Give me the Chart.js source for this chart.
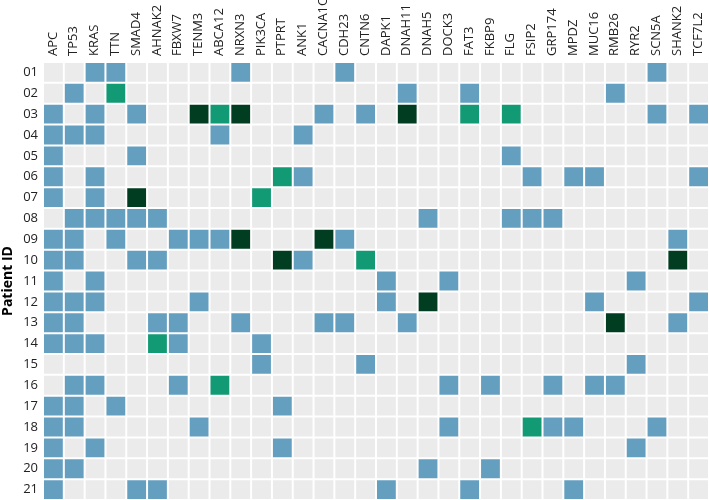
<!DOCTYPE html>
<html>
<head>
<meta charset="utf-8">
<script src="https://cdn.jsdelivr.net/npm/chart.js@4/dist/chart.umd.min.js"></script>
<style>
html,body{margin:0;padding:0;background:#fff;}
#wrap{width:709px;height:500px;position:relative;}
</style>
</head>
<body>
<div id="wrap"><canvas id="c"></canvas></div>
<script>
const genes = ["APC","TP53","KRAS","TTN","SMAD4","AHNAK2","FBXW7","TENM3","ABCA12","NRXN3","PIK3CA","PTPRT","ANK1","CACNA1C","CDH23","CNTN6","DAPK1","DNAH11","DNAH5","DOCK3","FAT3","FKBP9","FLG","FSIP2","GRP174","MPDZ","MUC16","RMB26","RYR2","SCN5A","SHANK2","TCF7L2"];
const patients = ["01","02","03","04","05","06","07","08","09","10","11","12","13","14","15","16","17","18","19","20","21"];
// mutation level per patient: [geneIndex, level] ; level 1 = blue, 2 = green, 3 = dark green
const p01 = [[2,1],[3,1],[9,1],[14,1],[29,1]];
const p02 = [[1,1],[3,2],[17,1],[20,1],[27,1]];
const p03 = [[0,1],[2,1],[4,1],[7,3],[8,2],[9,3],[13,1],[15,1],[17,3],[20,2],[22,2],[29,1],[31,1]];
const p04 = [[0,1],[1,1],[2,1],[8,1],[12,1]];
const p05 = [[0,1],[4,1],[22,1]];
const p06 = [[0,1],[2,1],[11,2],[12,1],[23,1],[25,1],[26,1],[31,1]];
const p07 = [[0,1],[2,1],[4,3],[10,2]];
const p08 = [[1,1],[2,1],[3,1],[4,1],[5,1],[18,1],[22,1],[23,1],[24,1]];
const p09 = [[0,1],[1,1],[3,1],[6,1],[7,1],[8,1],[9,3],[13,3],[14,1],[30,1]];
const p10 = [[0,1],[1,1],[4,1],[5,1],[11,3],[12,1],[15,2],[30,3]];
const p11 = [[0,1],[2,1],[16,1],[19,1],[28,1]];
const p12 = [[0,1],[1,1],[2,1],[7,1],[16,1],[18,3],[26,1],[31,1]];
const p13 = [[0,1],[1,1],[5,1],[6,1],[9,1],[13,1],[14,1],[17,1],[27,3],[30,1]];
const p14 = [[0,1],[1,1],[2,1],[5,2],[6,1],[10,1]];
const p15 = [[10,1],[15,1],[28,1]];
const p16 = [[1,1],[2,1],[6,1],[8,2],[19,1],[21,1],[24,1],[26,1],[27,1]];
const p17 = [[0,1],[1,1],[3,1],[11,1]];
const p18 = [[0,1],[1,1],[7,1],[19,1],[23,2],[24,1],[25,1],[29,1]];
const p19 = [[0,1],[2,1],[11,1],[28,1]];
const p20 = [[0,1],[1,1],[18,1],[21,1]];
const p21 = [[0,1],[4,1],[5,1],[16,1],[20,1],[25,1]];
const patientMutations = [p01,p02,p03,p04,p05,p06,p07,p08,p09,p10,p11,p12,p13,p14,p15,p16,p17,p18,p19,p20,p21];
const levelColors = ["#ebebeb","#649fc0","#119a74","#013d21"];

const levelOf = (pi, gi) => { const m = patientMutations[pi].find(e => e[0] === gi); return m ? m[1] : 0; };

const datasets = genes.map((g, gi) => ({
  label: g,
  data: patients.map(() => 1),
  backgroundColor: patients.map((p, pi) => levelColors[levelOf(pi, gi)]),
  borderColor: "#ffffff",
  borderWidth: 1,
  borderSkipped: false,
  inflateAmount: 0,
  barPercentage: 1,
  categoryPercentage: 1
}));

new Chart(document.getElementById("c"), {
  type: "bar",
  data: { labels: patients, datasets },
  options: {
    indexAxis: "y",
    responsive: true,
    maintainAspectRatio: false,
    animation: false,
    layout: { padding: 0 },
    plugins: { legend: { display: false }, tooltip: { enabled: false } },
    scales: {
      x: {
        type: "linear",
        position: "top",
        stacked: true,
        min: 0,
        max: genes.length,
        grid: { display: false, drawTicks: false },
        border: { display: false },
        afterBuildTicks: (s) => { s.ticks = genes.map((g, i) => ({ value: i + 0.5 })); },
        afterFit: (s) => { s.height = 62; s.paddingLeft = 0; s.paddingRight = 0; },
        ticks: {
          autoSkip: false,
          minRotation: 90,
          maxRotation: 90,
          padding: 6,
          labelOffset: 15,
          color: "#222222",
          font: { family: "Open Sans", size: 13 },
          callback: (v, i) => genes[i]
        }
      },
      y: {
        stacked: true,
        grid: { display: false, drawTicks: false },
        border: { display: false },
        afterFit: (s) => { s.width = 43; s.paddingTop = 0; s.paddingBottom = 0; },
        title: { display: true, text: "Patient ID", color: "#000", padding: 0, font: { family: "Open Sans", size: 14, weight: "bold" } },
        ticks: { color: "#222222", padding: 5, font: { family: "Open Sans", size: 13 } }
      }
    }
  }
});
</script>
</body>
</html>
